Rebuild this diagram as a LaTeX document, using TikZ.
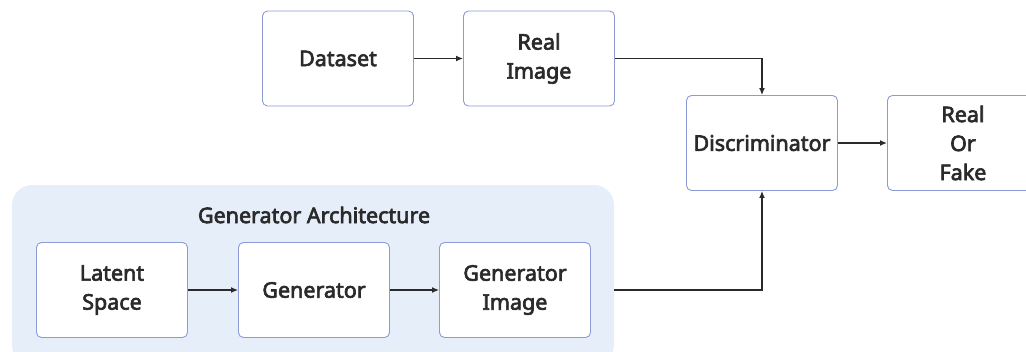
\documentclass[tikz,border=0pt]{standalone}
\usepackage{fontspec}
\setmainfont{Noto Sans}[RawFeature={embolden=3}]
\usetikzlibrary{arrows.meta,calc}
\definecolor{boxline}{HTML}{8C9BD8}
\definecolor{groupfill}{HTML}{E6EEFA}
\definecolor{txt}{HTML}{2A2A2A}
\tikzset{
  blk/.style={draw=boxline, line width=0.9pt, fill=white, rounded corners=5pt,
    minimum width=151pt, minimum height=95pt, align=center, text=txt,
    font=\fontsize{21.5}{29}\selectfont, inner sep=0pt},
  conn/.style={draw=txt, line width=1.3pt, -{Latex[length=7pt,width=6pt]}},
}
\begin{document}
\begin{tikzpicture}[x=1pt,y=-1pt]
\useasboundingbox (0,0) rectangle (1026,351);
\node[fill=groupfill, rounded corners=20pt, minimum width=602pt, minimum height=180pt, inner sep=0pt] (arch) at (313,275) {};
\node[text=txt, font=\fontsize{21.5}{29}\selectfont] (archlabel) at (314,215) {Generator Architecture};
\node[blk] (dataset) at (338,58.5) {Dataset};
\node[blk] (real) at (539,58.5) {Real\\Image};
\node[blk] (disc) at (762,143) {Discriminator};
\node[blk, anchor=west] (rof) at (887,143) {Real\\Or\\Fake};
\node[blk] (latent) at (112,290) {Latent\\Space};
\node[blk] (gen) at (314,290) {Generator};
\node[blk] (genimg) at (515,290) {Generator\\Image};
\draw[conn] (dataset) -- (real);
\draw[conn] (real.east) -| (disc.north);
\draw[conn] (disc) -- (rof);
\draw[conn] (latent) -- (gen);
\draw[conn] (gen) -- (genimg);
\draw[conn] (arch.east |- genimg.east) -| (disc.south);
\end{tikzpicture}
\end{document}
